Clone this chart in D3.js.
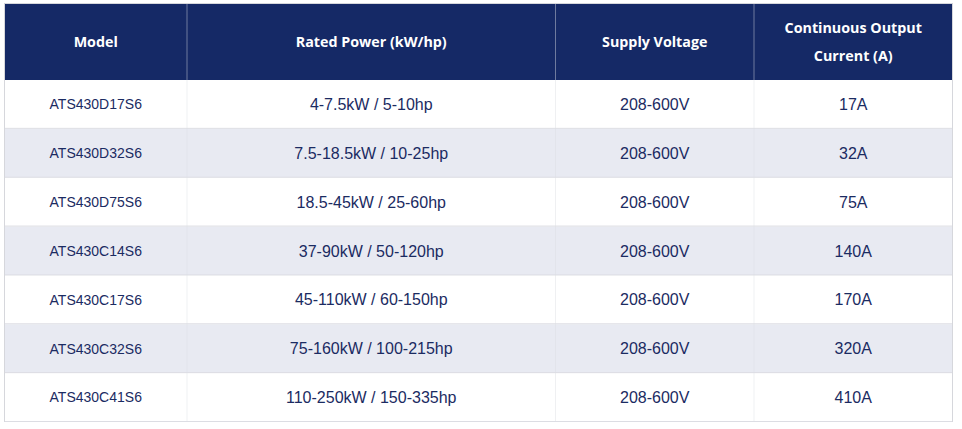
<!DOCTYPE html>
<html>
  <head>
    <meta charset="UTF-8">
    <script src="https://d3js.org/d3.v7.min.js"></script>
    <title>ATS430 table</title>
    <style>
      body { margin: 0; background: #fff; }
    </style>
  </head>
  <body>
    <svg id="t1" width="962" height="429"></svg>
    <script>
    // table contents
    var headers = [["Model"], ["Rated Power (kW/hp)"], ["Supply Voltage"], ["Continuous Output", "Current (A)"]];
    var models = ["ATS430D17S6", "ATS430D32S6", "ATS430D75S6", "ATS430C14S6", "ATS430C17S6", "ATS430C32S6", "ATS430C41S6"];
    var ratedPower = ["4-7.5kW / 5-10hp", "7.5-18.5kW / 10-25hp", "18.5-45kW / 25-60hp", "37-90kW / 50-120hp",
                      "45-110kW / 60-150hp", "75-160kW / 100-215hp", "110-250kW / 150-335hp"];
    var supplyVoltage = ["208-600V", "208-600V", "208-600V", "208-600V", "208-600V", "208-600V", "208-600V"];
    var outputCurrent = ["17A", "32A", "75A", "140A", "170A", "320A", "410A"];

    var svg = d3.select("#t1");
    // note: "top" is reserved on window, so use tableTop
    var left = 4.5, right = 952.5, tableTop = 3.5, headH = 76.5, bottom = 422;

    // column edges
    var colEdges = [left, 187, 555.5, 754, right];
    var colX = d3.scaleOrdinal().domain([0, 1, 2, 3]).range(colEdges.slice(0, 4));
    var colW = function(i) { return colEdges[i + 1] - colEdges[i]; };

    var y = d3.scaleBand()
      .domain(d3.range(models.length))
      .range([tableTop + headH, bottom]);

    var rows = models.map(function(m, i) {
      return [m, ratedPower[i], supplyVoltage[i], outputCurrent[i]];
    });

    // header
    svg.append("rect")
      .attr("x", left).attr("y", tableTop)
      .attr("width", right - left).attr("height", headH)
      .attr("fill", "#152966");

    headers.forEach(function(lines, i) {
      var t = svg.append("text")
        .attr("text-anchor", "middle")
        .attr("fill", "#fff")
        .style("font-family", "'Open Sans', sans-serif")
        .style("font-weight", "700")
        .style("font-size", "14.3px");
      var cy = tableTop + headH / 2, lh = 28;
      lines.forEach(function(l, k) {
        t.append("tspan")
          .attr("x", colX(i) + colW(i) / 2)
          .attr("y", cy + (k - (lines.length - 1) / 2) * lh)
          .attr("dy", "0.35em")
          .text(l);
      });
    });

    // body rows
    var g = svg.append("g");
    g.selectAll(".row")
      .data(rows)
      .enter().append("rect")
      .attr("x", left)
      .attr("y", function(d, i) { return y(i); })
      .attr("width", right - left)
      .attr("height", y.bandwidth())
      .attr("fill", function(d, i) { return i % 2 ? "#e8eaf2" : "#ffffff"; });

    // horizontal lines
    g.selectAll(".hl")
      .data(d3.range(models.length))
      .enter().append("line")
      .attr("x1", left).attr("x2", right)
      .attr("y1", function(i) { return y(i) + y.bandwidth() - 0.5; })
      .attr("y2", function(i) { return y(i) + y.bandwidth() - 0.5; })
      .attr("stroke", "#dcdde3");

    // vertical lines
    svg.selectAll(".vl")
      .data(colEdges)
      .enter().append("line")
      .attr("x1", function(d) { return d; }).attr("x2", function(d) { return d; })
      .attr("y1", tableTop)
      .attr("y2", bottom)
      .attr("stroke", function(d, i) { return (i == 0 || i == colEdges.length - 1) ? "#d6d7dc" : "#dcdde3"; })
      .attr("stroke-opacity", function(d, i) { return (i == 0 || i == colEdges.length - 1) ? 1 : 0.45; });

    svg.append("line")
      .attr("x1", left).attr("x2", right)
      .attr("y1", tableTop).attr("y2", tableTop)
      .attr("stroke", "#d6d7dc");

    rows.forEach(function(r, i) {
      r.forEach(function(v, j) {
        svg.append("text")
          .attr("x", colX(j) + colW(j) / 2)
          .attr("y", y(i) + y.bandwidth() / 2)
          .attr("dy", "0.35em")
          .attr("text-anchor", "middle")
          .attr("fill", "#1b2b62")
          .style("font-family", "'Liberation Sans', Arial, sans-serif")
          .style("font-size", j == 0 ? "14px" : "16px")
          .text(v);
      });
    });
    </script>
  </body>
</html>
